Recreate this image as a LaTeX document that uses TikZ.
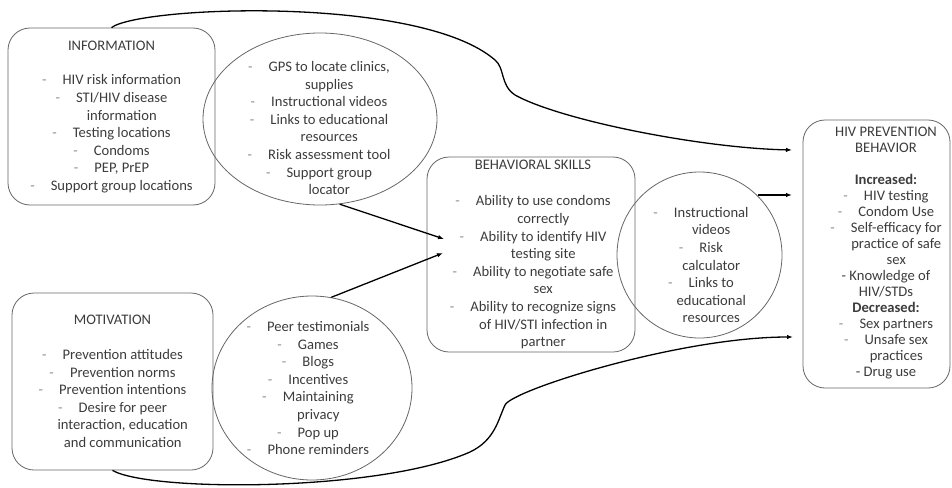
\documentclass[tikz,border=0pt]{standalone}
\usepackage{fontspec}
\setmainfont{Carlito}
\usetikzlibrary{arrows.meta,shapes.geometric}
\definecolor{txt}{HTML}{3C3C3C}
\definecolor{dashc}{HTML}{8C8C8C}
\definecolor{edge}{HTML}{666666}
\newcommand\itm{\textcolor{dashc}{-}\hspace{1.1em}}
\newcommand\cnt{\hphantom{-\hspace{1.1em}}}
\begin{document}
\begin{tikzpicture}[x=1pt,y=-1pt,
  boxshape/.style={draw=edge, line width=0.8pt, rounded corners=22pt, inner sep=0pt},
  ellshape/.style={ellipse, draw=edge, line width=0.8pt, inner sep=0pt},
  txtnode/.style={align=center, text=txt, inner sep=0pt, font=\fontsize{14.6}{17.6}\selectfont},
  conn/.style={line width=1.3pt, -{Latex[length=6pt,width=4.5pt]}}]
\useasboundingbox (0,0) rectangle (952,487);

% shapes
\node[boxshape, minimum width=207pt, minimum height=177pt] (info) at (111.5,116.5) {};
\node[boxshape, minimum width=201pt, minimum height=177pt] (motiv) at (112.5,381.5) {};
\node[boxshape, minimum width=208pt, minimum height=195pt] (behav) at (531,254.5) {};
\node[boxshape, minimum width=147pt, minimum height=268pt] (hiv) at (876.5,254) {};
\node[ellshape, minimum width=234pt, minimum height=172pt] (infoEll) at (320,119) {};
\node[ellshape, minimum width=200pt, minimum height=184pt] (motivEll) at (312,388) {};
\node[ellshape, minimum width=165pt, minimum height=166pt] (behavEll) at (699.5,255) {};

% texts
\node[txtnode] (infoT) at (111.5,117) {INFORMATION\\[17pt]
\itm HIV risk information\\
\itm STI/HIV disease\\
\cnt information\\
\itm Testing locations\\
\itm Condoms\\
\itm PEP, PrEP\\
\itm Support group locations};

\node[txtnode] (infoEllT) at (319,128) {\itm GPS to locate clinics,\\
\cnt supplies\\
\itm Instructional videos\\
\itm Links to educational\\
\cnt resources\\
\itm Risk assessment tool\\
\itm Support group\\
\cnt locator};

\node[txtnode] (motivT) at (112.5,381.5) {MOTIVATION\\[17pt]
\itm Prevention attitudes\\
\itm Prevention norms\\
\itm Prevention intentions\\
\itm Desire for peer\\
\cnt interaction, education\\
\cnt and communication};

\node[txtnode] (motivEllT) at (308,388) {\itm Peer testimonials\\
\itm Games\\
\itm Blogs\\
\itm Incentives\\
\itm Maintaining\\
\cnt privacy\\
\itm Pop up\\
\itm Phone reminders};

\node[txtnode] (behavT) at (533,254.5) {BEHAVIORAL SKILLS\\[19pt]
\itm Ability to use condoms\\
\cnt correctly\\
\itm Ability to identify HIV\\
\cnt testing site\\
\itm Ability to negotiate safe\\
\cnt sex\\
\itm Ability to recognize signs\\
\cnt of HIV/STI infection in\\
\cnt partner};

\node[txtnode] (behavEllT) at (701,265) {\itm Instructional\\
\cnt videos\\
\itm Risk\\
\cnt calculator\\
\itm Links to\\
\cnt educational\\
\cnt resources};

\node[txtnode, font=\fontsize{14.6}{16}\selectfont] (hivT) at (886,253) {HIV PREVENTION\\
BEHAVIOR\\[16pt]
\textbf{Increased:}\\
\itm HIV testing\\
\itm Condom Use\\
\itm Self-efficacy for\\
\cnt practice of safe\\
\cnt sex\\
- Knowledge of\\
HIV/STDs\\
\textbf{Decreased:}\\
\itm Sex partners\\
\itm Unsafe sex\\
\cnt practices\\
- Drug use};

% free ends
\coordinate (tipA) at (792,150);
\coordinate (tipB) at (792,195);
\coordinate (tipC) at (793,337);
\coordinate (tipD) at (444,239);
\coordinate (tipE) at (443,253);
\coordinate (startB) at (758,195);

% connectors
\draw[conn] (info.north) .. controls (140,6) and (420,-5) .. (495,60)
  .. controls (505,68) and (500,85) .. (515,95)
  .. controls (560,120) and (700,148) .. (tipA);
\draw[conn] (startB) -- (tipB);
\draw[conn] (motiv.south) .. controls (150,492) and (380,492) .. (470,452)
  .. controls (495,440) and (498,420) .. (505,405)
  .. controls (512,390) and (680,337) .. (tipC);
\draw[conn] (infoEll.-77) -- (tipD);
\draw[conn] (motivEll.78) -- (tipE);
\end{tikzpicture}
\end{document}
